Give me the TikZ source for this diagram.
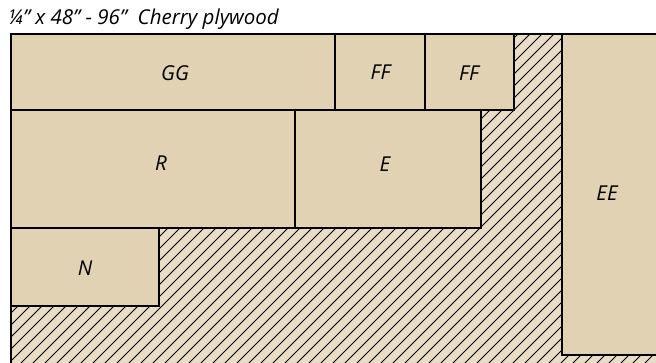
\documentclass[tikz,border=0pt]{standalone}
\usepackage{fontspec}
\setmainfont{Open Sans}
\begin{document}
\begin{tikzpicture}[x=1pt,y=-1pt,
  piece/.style={fill=piecefill,draw=black,line width=2pt},
  lbl/.style={font=\itshape\fontsize{20.5}{22}\selectfont,inner sep=0pt},
  hatchline/.style={draw=black,line width=1pt}]
\definecolor{piecefill}{RGB}{226,210,180}
\definecolor{hatchfill}{RGB}{233,221,198}
\useasboundingbox (0,0) rectangle (656,363);
\clip (0,0) rectangle (656,363);
% sheet
\fill[hatchfill] (11,34) rectangle (700,400);
\begin{scope}
  \clip (11,34) rectangle (700,400);
  \foreach \a in {-400,-388,...,700}{
    \draw[hatchline] (\a,400) -- ++(450,-450);
  }
\end{scope}
\draw[black,line width=2pt] (11,400) -- (11,34) -- (700,34);
% pieces
\path[piece] (11,34) rectangle (335,110);
\path[piece] (335,34) rectangle (425,110);
\path[piece] (425,34) rectangle (514,110);
\path[piece] (11,110) rectangle (295,228);
\path[piece] (295,110) rectangle (481,228);
\path[piece] (11,228) rectangle (159,306);
\path[piece] (561.5,34) rectangle (700,355);
% labels
\node[lbl] (GG) at (175,73.5) {GG};
\node[lbl] (FF1) at (380.5,72.5) {FF};
\node[lbl] (FF2) at (469,73.5) {FF};
\node[lbl] (R) at (161,163) {R};
\node[lbl] (E) at (385,164) {E};
\node[lbl] (EE) at (607,193) {EE};
\node[lbl] (N) at (85,268) {N};
\node[lbl,anchor=base west] (title) at (8,25) {¼" x 48" - 96"~ Cherry plywood};
\end{tikzpicture}
\end{document}
